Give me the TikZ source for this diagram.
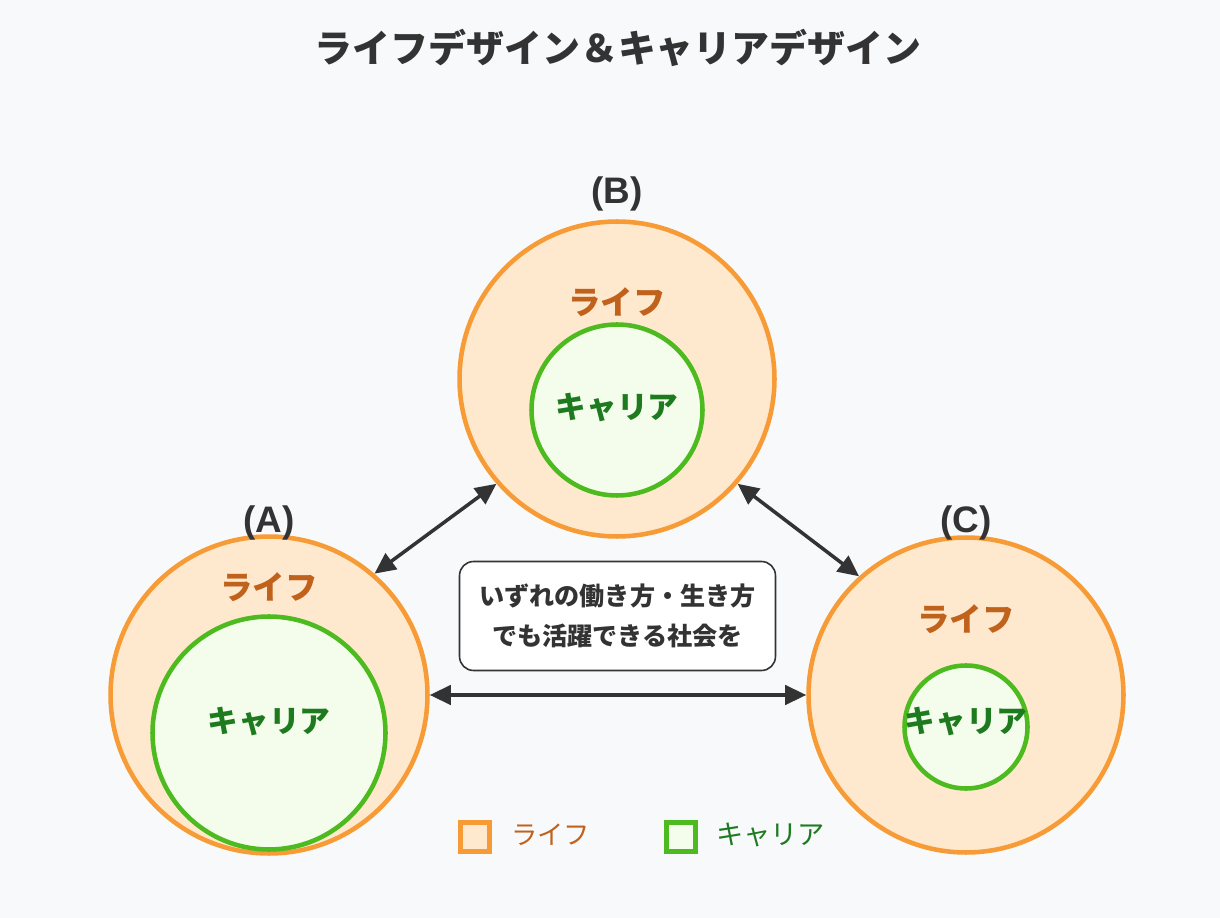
\documentclass[tikz,border=0pt]{standalone}
\usepackage{fontspec}
\setmainfont{Noto Sans CJK JP}
\newfontfamily\latinbold{Liberation Sans}
\usetikzlibrary{arrows.meta}
\definecolor{bgcol}{HTML}{F8F9FB}
\definecolor{lifeline}{HTML}{F79B36}
\definecolor{lifefill}{HTML}{FFE9CE}
\definecolor{lifebrown}{HTML}{C0621C}
\definecolor{careerline}{HTML}{4DBB1F}
\definecolor{careerfill}{HTML}{F4FDEC}
\definecolor{careergreen}{HTML}{1E7A1E}
\definecolor{inkcol}{HTML}{333333}
\tikzset{
  life/.style={circle,draw=lifeline,fill=lifefill,line width=2.6pt,inner sep=0pt},
  career/.style={circle,draw=careerline,fill=careerfill,line width=2.6pt,inner sep=0pt},
  lifelabel/.style={text=lifebrown,font=\bfseries\fontsize{18.5}{20}\selectfont},
  careerlabel/.style={text=careergreen,font=\bfseries\fontsize{17.5}{20}\selectfont},
  casename/.style={text=inkcol,font=\latinbold\bfseries\fontsize{21}{22}\selectfont},
  both/.style={draw=inkcol,line width=2pt,{Triangle[length=12pt,width=11pt]}-{Triangle[length=12pt,width=11pt]}},
  keybox/.style={draw=#1,line width=2.4pt,minimum size=0.58cm,inner sep=0pt},
}
\begin{document}
\begin{tikzpicture}[x=0.02cm,y=-0.02cm]
\fill[bgcol] (0,0) rectangle (1220,918);
\useasboundingbox (0,0) rectangle (1220,918);
% title
\node[text=inkcol,font=\bfseries\fontsize{21.6}{24}\selectfont] (title) at (618,48) {ライフデザイン＆キャリアデザイン};
% circle (B)
\node[life,minimum size=6.3cm] (B) at (617,379) {};
\node[career,minimum size=3.42cm] (Bin) at (617,410) {};
\node[lifelabel] (Blife) at (617,302) {ライフ};
\node[careerlabel] (Bcar) at (617,408) {キャリア};
\node[casename] (Bname) at (617,194) {(B)};
% circle (A)
\node[life,minimum size=6.34cm] (A) at (269,695) {};
\node[career,minimum size=4.66cm] (Ain) at (269,733) {};
\node[lifelabel] (Alife) at (269,587) {ライフ};
\node[careerlabel] (Acar) at (269,722) {キャリア};
\node[casename] (Aname) at (269,523) {(A)};
% circle (C)
\node[life,minimum size=6.3cm] (C) at (966,695) {};
\node[career,minimum size=2.46cm] (Cin) at (966,727) {};
\node[lifelabel] (Clife) at (966,619) {ライフ};
\node[careerlabel] (Ccar) at (966,722) {キャリア};
\node[casename] (Cname) at (966,523) {(C)};
% arrows
\draw[both] (A.49) -- (B.221);
\draw[both] (B.319) -- (C.132);
\draw[both] (A.east) -- (C.west);
% message
\node[draw=inkcol,fill=white,line width=0.9pt,rounded corners=0.28cm,
      minimum width=6.32cm,minimum height=2.18cm,align=center,text=inkcol,
      font=\bfseries\fontsize{14.3}{23}\selectfont] (msg) at (617.5,616)
  {いずれの働き方・生き方\\でも活躍できる社会を};
% legend
\node[keybox=lifeline,fill=lifefill] (keylife) at (475,837) {};
\node[anchor=west,text=lifebrown,font=\fontsize{15}{18}\selectfont] (keylifetext) at (505,835) {ライフ};
\node[keybox=careerline,fill=careerfill] (keycar) at (681,837) {};
\node[anchor=west,text=careergreen,font=\fontsize{15.5}{18}\selectfont] (keycartext) at (710,835) {キャリア};
\end{tikzpicture}
\end{document}
